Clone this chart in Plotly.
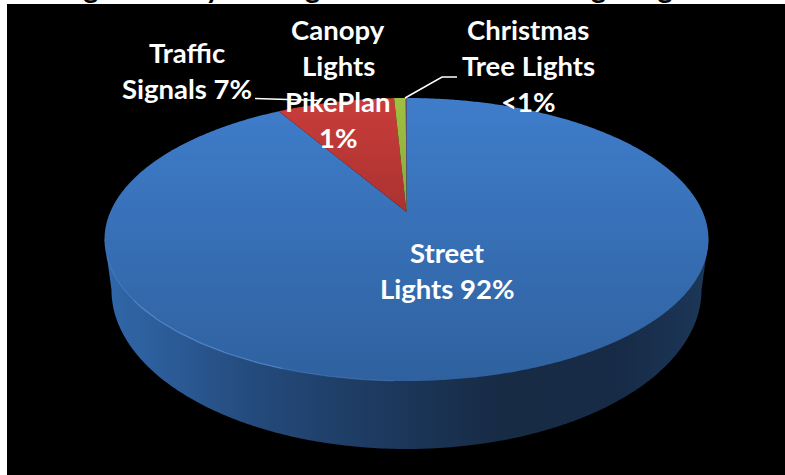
import numpy as np
import plotly.graph_objects as go

# ---- data -------------------------------------------------------------
categories = ["Street Lights", "Traffic Signals", "Canopy Lights PikePlan", "Christmas Tree Lights"]
values = [91.6, 7.6, 0.75, 0.05]
slice_tops = ["#3f7dcb", "#c93d3b", "#9fc043", "#8064a2"]
slice_bottoms = ["#2f619f", "#aa3230", "#8aa838", "#8064a2"]

title_text = "Regional City Wattage for All Street Site Lighting"
label_lines = [
    ["Street", "Lights 92%"],
    ["Traffic", "Signals 7%"],
    ["Canopy", "Lights", "PikePlan", "1%"],
    ["Christmas", "Tree Lights", "<1%"],
]
label_centres = [(447, 252.5), (187, 52.5), (338, 29), (528, 29.5)]
LINE_STEP = 36
leaders = [([255, 320], [98.5, 100.5]), ([405, 442, 457], [98, 77, 77])]

# ---- pie geometry (projected disc) -------------------------------------
CX, CY = 406.5, 212
TOP, BOTTOM = 98, 381
up, down = CY - TOP, BOTTOM - CY
K = (down - up) / (down + up)
A = up * (1 + K)
B = 302 * np.sqrt(1 - K * K)


def rim(theta):
    u, v = np.sin(theta), np.cos(theta)
    w = 1 + K * v
    return CX + B * u / w, CY - A * v / w


fig = go.Figure()

# side wall
low_cy, low_rx, low_ry = 290, 295, 159
t = np.linspace(np.pi, 0, 240)
side_x = list(CX + low_rx * np.cos(t))
side_y = list(low_cy + low_ry * np.sin(t))
ell_cy = (TOP + BOTTOM) / 2
side_x = [CX - 302] + side_x + [CX + 302]
side_y = [ell_cy] + side_y + [ell_cy]
fig.add_trace(go.Scatter(
    x=side_x, y=side_y, mode="none", fill="toself", hoverinfo="skip",
    fillgradient=dict(
        type="horizontal",
        colorscale=[[0, "#3068aa"], [0.12, "#2b5a95"], [0.25, "#244a7b"], [0.45, "#1d3a60"],
                    [0.65, "#172b45"], [0.85, "#172b47"], [1, "#1c3758"]],
        start=CX - 302, stop=CX + 302),
))

# top-face slices, drawn from the values
total = sum(values)
edges = 2 * np.pi * np.cumsum([0] + values) / total
for name, a0, a1, c0, c1 in zip(categories, edges[:-1], edges[1:], slice_tops, slice_bottoms):
    n = max(int((a1 - a0) * 120), 4)
    th = np.linspace(a0, a1, n)
    xs, ys = rim(th)
    fig.add_trace(go.Scatter(
        x=[CX] + list(xs) + [CX], y=[CY] + list(ys) + [CY],
        mode="none", fill="toself", name=name, hoverinfo="name",
        fillgradient=dict(type="vertical", colorscale=[[0, c0], [1, c1]], start=TOP, stop=BOTTOM if name == categories[0] else CY),
    ))

# fading highlight on the lower-left rim
for a0, a1, col in [(182, 200, "rgba(90,145,215,0.35)"), (200, 235, "rgba(90,145,215,0.7)"),
                    (235, 252, "rgba(90,145,215,0.35)")]:
    hx, hy = rim(np.linspace(np.radians(a0), np.radians(a1), 40))
    fig.add_trace(go.Scatter(x=hx, y=hy, mode="lines", hoverinfo="skip",
                             line=dict(color=col, width=1.3)))

# leader lines
for lx, ly in leaders:
    fig.add_trace(go.Scatter(x=lx, y=ly, mode="lines", hoverinfo="skip",
                             line=dict(color="white", width=1.5)))

# labels
for lines, (cx, cy) in zip(label_lines, label_centres):
    for i, line in enumerate(lines):
        fig.add_annotation(x=cx, y=cy + i * LINE_STEP, text=line, showarrow=False,
                           xanchor="center", yanchor="middle",
                           font=dict(family="Lato", size=27.5, color="white", weight="bold"))

fig.add_annotation(xref="paper", yref="paper", x=0.053, y=1, xanchor="left", yanchor="bottom", yshift=-2,
                   text=title_text, showarrow=False,
                   font=dict(family="Lato", size=29, color="black", weight="bold"))

fig.update_layout(
    width=785, height=475, showlegend=False,
    margin=dict(l=7, r=0, t=4, b=0),
    paper_bgcolor="white", plot_bgcolor="black",
    xaxis=dict(range=[7, 785], visible=False, fixedrange=True),
    yaxis=dict(range=[475, 4], visible=False, fixedrange=True),
)
fig.write_html("out.html", config={"displayModeBar": False},
               post_script="document.body.style.margin='0';document.body.style.overflow='hidden';")
